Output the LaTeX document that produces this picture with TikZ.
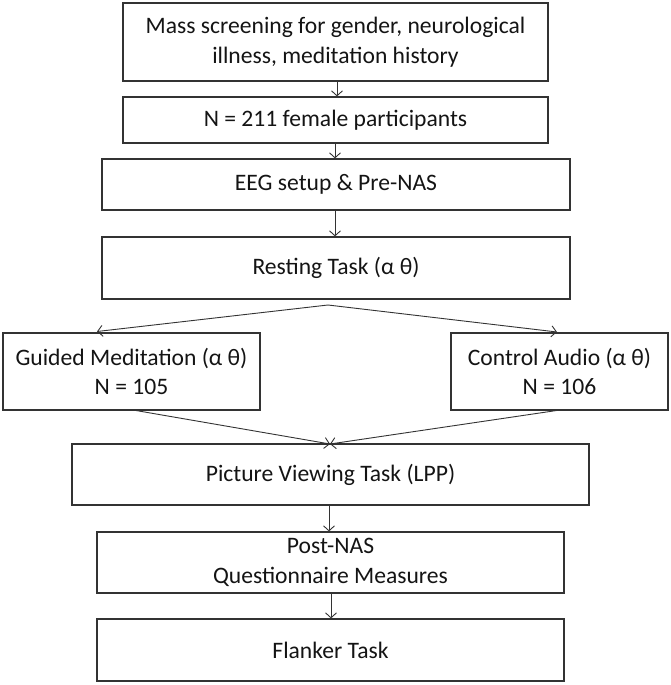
\documentclass[tikz,border=0pt]{standalone}
\usepackage{fontspec}
\setmainfont{Carlito}
\usetikzlibrary{arrows.meta}
\definecolor{linec}{HTML}{333333}
\begin{document}
\begin{tikzpicture}[x=1pt,y=-1pt,
  box/.style={draw=linec,line width=1.2pt,inner sep=0pt,align=center,
    font=\fontsize{23.6}{29.5}\selectfont,text=black!92},
  conn/.style={draw=linec,line width=0.9pt,
    -{Straight Barb[length=5pt,width=11pt,line width=0.9pt]}}]
\useasboundingbox (0,0) rectangle (670,685);
\node[box,minimum width=425pt,minimum height=78pt] (b1) at (335.5,42)
  {Mass screening for gender, neurological\\illness, meditation history};
\node[box,minimum width=425pt,minimum height=46pt] (b2) at (335.5,120)
  {N = 211 female participants};
\node[box,minimum width=468pt,minimum height=51pt] (eeg) at (336,184.5)
  {EEG setup \& Pre-NAS};
\node[box,minimum width=468pt,minimum height=62pt] (rest) at (336,268)
  {Resting Task (α θ)};
\node[box,minimum width=257pt,minimum height=77pt] (gm) at (131.5,371.5)
  {Guided Meditation (α θ)\\N = 105};
\node[box,minimum width=217pt,minimum height=77pt] (ca) at (559.5,371.5)
  {Control Audio (α θ)\\N = 106};
\node[box,minimum width=517pt,minimum height=61pt] (pv) at (330.5,474.5)
  {Picture Viewing Task (LPP)};
\node[box,minimum width=467pt,minimum height=61pt] (post) at (330.5,562.5)
  {Post-NAS\\Questionnaire Measures};
\node[box,minimum width=467pt,minimum height=62pt] (fl) at (330.5,650)
  {Flanker Task};
\coordinate (split) at (328,305);
\coordinate (gmtip) at (97,331.5);
\coordinate (catip) at (557,332);
\coordinate (gmout) at (133,410);
\coordinate (caout) at (560,410);
\coordinate (pvin) at (330,444);
\draw[conn] (b1.south -| 337,0) -- (b2.north -| 337,0);
\draw[conn] (b2.south -| 335,0) -- (eeg.north -| 335,0);
\draw[conn] (eeg.south -| 335,0) -- (rest.north -| 335,0);
\draw[conn] (split) -- (gmtip);
\draw[conn] (split) -- (catip);
\draw[conn] (gmout) -- (pvin);
\draw[conn] (caout) -- (pvin);
\draw[conn] (pv.south -| 329,0) -- (post.north -| 329,0);
\draw[conn] (post.south -| 331,0) -- (fl.north -| 331,0);
\end{tikzpicture}
\end{document}
